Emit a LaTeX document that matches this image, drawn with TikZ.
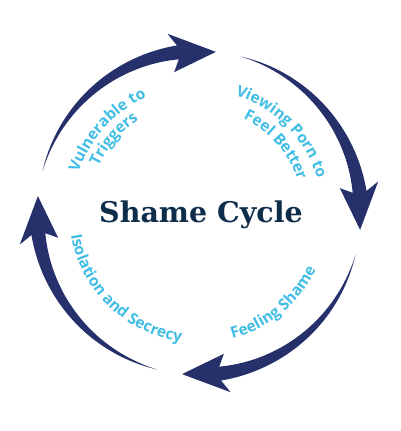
\documentclass[tikz,border=0pt]{standalone}
\usepackage{fontspec}
\usetikzlibrary{decorations.text}
\newfontfamily\labfont{Open Sans}
\newfontfamily\titlefont{DejaVu Serif}
\definecolor{navy}{HTML}{26306B}
\definecolor{lblue}{HTML}{41BDE5}
\definecolor{titlecol}{HTML}{0E2D4B}
\tikzset{
  arrowfill/.style={fill=navy},
  arclabel/.style={decorate, decoration={text along path, text align=center,
     text={|\labfont\bfseries\fontsize{15.5}{15.5}\selectfont\color{lblue}|#1}}},
  titlestyle/.style={font=\titlefont\bfseries\fontsize{28.5}{28.5}\selectfont, text=titlecol, anchor=base, inner sep=0pt}
}
\begin{document}
\begin{tikzpicture}[x=1pt,y=1pt]
\useasboundingbox (0,0) rectangle (400,431);
\coordinate (c) at (199,218);
\begin{scope}[shift={(c)}]
\foreach \k in {0,1,2,3}{
  \begin{scope}[rotate=-90*\k]
    \fill[arrowfill] plot[domain=165:97.5,samples=40] (\x:{162+7*(165-\x)/67.5})
      -- (100:182) -- (84:162) -- (100:143)
      -- plot[domain=97.5:165,samples=40] (\x:{162-7*(165-\x)/67.5}) -- cycle;
  \end{scope}
}
\path[arclabel={Vulnerable to}] (178:127) arc[start angle=178,end angle=98,radius=127];
\path[arclabel={Triggers}] (179:111) arc[start angle=179,end angle=99,radius=111];
\path[arclabel={Viewing Porn to}] (85:123) arc[start angle=85,end angle=4,radius=123];
\path[arclabel={Feel Better}] (82:104) arc[start angle=82,end angle=1,radius=104];
\path[arclabel={Isolation and Secrecy}] (176:130) arc[start angle=176,end angle=276,radius=130];
\path[arclabel={Feeling Shame}] (260:130) arc[start angle=260,end angle=359,radius=130];
\end{scope}
\node[titlestyle] (title) at (201,208) {Shame Cycle};
\end{tikzpicture}
\end{document}
